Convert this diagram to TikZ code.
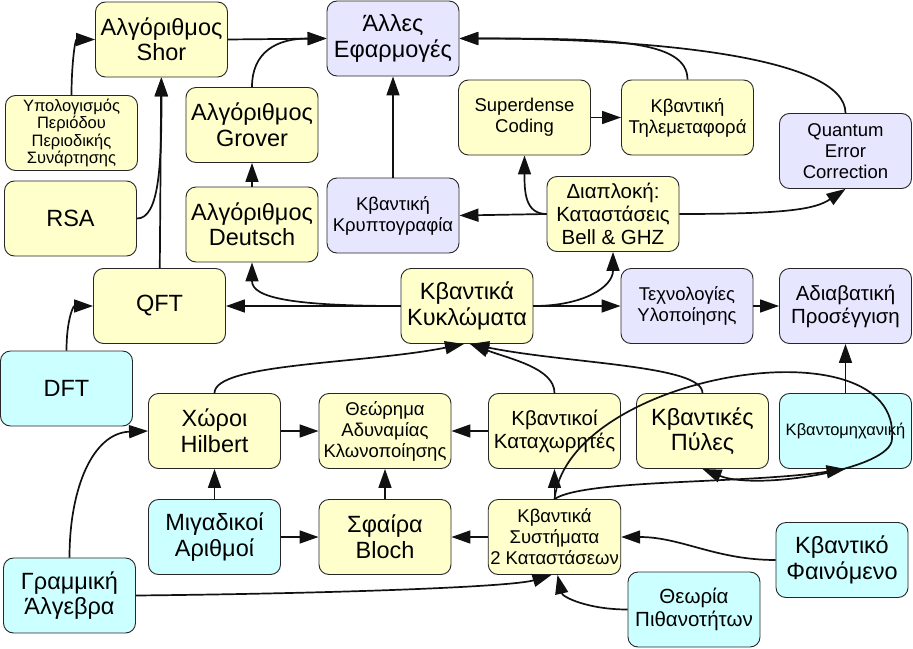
\documentclass[tikz,border=0pt]{standalone}
\usepackage{fontspec}
\setmainfont{Liberation Sans}
\usetikzlibrary{arrows.meta}
\definecolor{qyellow}{HTML}{FFFFCC}
\definecolor{qlav}{HTML}{E6E6FF}
\definecolor{qcyan}{HTML}{CCFFFF}
\definecolor{qline}{HTML}{111111}

\begin{document}
\begin{tikzpicture}[
  x=1pt, y=1pt,
  >={Triangle[length=19pt, width=13pt]},
  topic/.style={
    draw=black!85, line width=0.9pt, fill=#1, rounded corners=10pt,
    minimum width=132pt, minimum height=75pt, align=center, inner sep=2pt,
    text=black
  },
  bigtxt/.style={font=\fontsize{23.5}{25.5}\selectfont},
  medtxt/.style={font=\fontsize{20.5}{23}\selectfont},
  midtxt/.style={font=\fontsize{18.5}{21}\selectfont},
  smltxt/.style={font=\fontsize{16.5}{17.5}\selectfont},
  link/.style={->, line width=1.7pt, qline},
]

% Background
\fill[white] (0,0) rectangle (913,-648);
\useasboundingbox (0,0) rectangle (913,-648);

% =============================================
% Algorithms and applications (top)
% =============================================
\node[topic=qyellow, bigtxt] (shor) at (161.5,-39.5) {Αλγόριθμος\\Shor};
\node[topic=qlav, bigtxt] (apps) at (393,-38.5) {Άλλες\\Εφαρμογές};
\node[topic=qyellow, smltxt] (period) at (71.5,-133)
  {Υπολογισμός\\Περιόδου\\Περιοδικής\\Συνάρτησης};
\node[topic=qyellow, bigtxt] (rsa) at (70.5,-218.5) {RSA};
\node[topic=qyellow, bigtxt] (grover) at (252,-125) {Αλγόριθμος\\Grover};
\node[topic=qyellow, bigtxt] (deutsch) at (252,-224.5) {Αλγόριθμος\\Deutsch};
\node[topic=qlav, midtxt] (crypto) at (393,-215.5) {Κβαντική\\Κρυπτογραφία};
\node[topic=qyellow, midtxt] (superdense) at (524.5,-117.5) {Superdense\\Coding};
\node[topic=qyellow, midtxt] (teleport) at (687.5,-117.5) {Κβαντική\\Τηλεμεταφορά};
\node[topic=qlav, midtxt] (qec) at (845.5,-151) {Quantum\\Error\\Correction};
\node[topic=qyellow, medtxt] (entangle) at (613,-214)
  {Διαπλοκή:\\Καταστάσεις\\Bell \& GHZ};

% =============================================
% Circuits row
% =============================================
\node[topic=qyellow, bigtxt] (qft) at (159.5,-306) {QFT};
\node[topic=qcyan, bigtxt] (dft) at (66.5,-388.5) {DFT};
\node[topic=qyellow, bigtxt] (circuits) at (467,-306) {Κβαντικά\\Κυκλώματα};
\node[topic=qlav, midtxt] (tech) at (687,-306) {Τεχνολογίες\\Υλοποίησης};
\node[topic=qlav, medtxt] (adiabatic) at (845.5,-306) {Αδιαβατική\\Προσέγγιση};

% =============================================
% Foundations (bottom)
% =============================================
\node[topic=qyellow, bigtxt] (hilbert) at (214.5,-431) {Χώροι\\Hilbert};
\node[topic=qyellow, midtxt] (nocloning) at (385,-431)
  {Θεώρημα\\Αδυναμίας\\Κλωνοποίησης};
\node[topic=qyellow, medtxt] (registers) at (554.5,-431) {Κβαντικοί\\Καταχωρητές};
\node[topic=qyellow, bigtxt] (gates) at (702.5,-431) {Κβαντικές\\Πύλες};
\node[topic=qcyan, smltxt] (qm) at (845.5,-431) {Κβαντομηχανική};
\node[topic=qcyan, bigtxt] (complex) at (214.5,-537) {Μιγαδικοί\\Αριθμοί};
\node[topic=qyellow, bigtxt] (bloch) at (385,-537) {Σφαίρα\\Bloch};
\node[topic=qyellow, midtxt] (twolevel) at (554.5,-537)
  {Κβαντικά\\Συστήματα\\2 Καταστάσεων};
\node[topic=qcyan, bigtxt] (linalg) at (69.5,-595.5) {Γραμμική\\Άλγεβρα};
\node[topic=qcyan, bigtxt] (phenomenon) at (842,-560) {Κβαντικό\\Φαινόμενο};
\node[topic=qcyan, medtxt] (probability) at (694,-609.5) {Θεωρία\\Πιθανοτήτων};

% =============================================
% Arrows
% =============================================

% into the applications box
\draw[link] (shor.east) -- (apps.west);
\draw[link] (grover.north) .. controls +(0,35) and +(-50,0) .. (apps.west);
\draw[link] (crypto) -- (apps);
\draw[link] (teleport.north) .. controls +(0,40) and +(150,0) .. (apps.east);
\draw[link] (qec.north) .. controls +(0,55) and +(200,0) .. (apps.east);

% entanglement and its uses
\draw[link] (superdense) -- (teleport);
\draw[link] (entangle.west) -- (crypto.east);
\draw[link] (entangle.west) .. controls +(-22,0) and +(0,-35) .. (superdense.south);
\draw[link] (entangle.east) .. controls +(110,0) and +(-30,-20) .. (qec.south);

% circuits
\draw[link] (circuits) -- (tech);
\draw[link] (circuits.east) .. controls +(50,0) and +(0,-35) .. (entangle.south);
\draw[link] (tech) -- (adiabatic);
\draw[link] (qm) -- (adiabatic);
\draw[link] (circuits) -- (qft);
\draw[link] (circuits.west) .. controls +(-110,0) and +(0,-35) .. (deutsch.south);
\draw[link] (deutsch) -- (grover);

% towards Shor
\draw[link] (qft) -- (shor);
\draw[link] (rsa.east) .. controls +(22,0) and +(0,-90) .. (shor.south);
\draw[link] (period.north) .. controls +(0,30) and +(-20,0) .. (shor.west);
\draw[link] (dft.north) .. controls +(0,30) and +(-20,0) .. (qft.west);

% into the circuits box from below
\draw[link] (hilbert.north) .. controls +(0,30) and +(-100,-20) .. ([xshift=-3pt]circuits.south);
\draw[link] (registers.north) .. controls +(0,25) and +(40,-15) .. ([xshift=3pt]circuits.south);
\draw[link] (gates.north) .. controls +(0,28) and +(100,-20) .. ([xshift=3pt]circuits.south);

% state spaces
\draw[link] (hilbert) -- (nocloning);
\draw[link] (registers) -- (nocloning);
\draw[link] (complex) -- (hilbert);
\draw[link] (complex) -- (bloch);
\draw[link] (bloch) -- (nocloning);
\draw[link] (twolevel) -- (bloch);
\draw[link] (twolevel) -- (registers);

% two-level systems to gates and quantum mechanics (loop)
\draw[link] (twolevel.north) .. controls +(30,20) and +(-100,-15) .. (qm.south);
\coordinate (qmloop) at ([xshift=-20pt,yshift=-8pt]qm.east);
\draw[link] (twolevel.north) .. controls +(15,127) and +(10,119) .. (qmloop)
  .. controls +(0,-30) and +(55,-22) .. (gates.south);

% foundations
\draw[link] (linalg.north) .. controls +(0,70) and +(-55,-2) .. (hilbert.west);
\draw[link] (linalg.east) .. controls +(200,2) and +(-40,-12) .. ([xshift=-3pt]twolevel.south);
\draw[link] (probability.west) .. controls +(-40,0) and +(5,-22) .. ([xshift=3pt]twolevel.south);
\draw[link] (phenomenon.west) .. controls +(-60,0) and +(60,0) .. (twolevel.east);

\end{tikzpicture}
\end{document}
